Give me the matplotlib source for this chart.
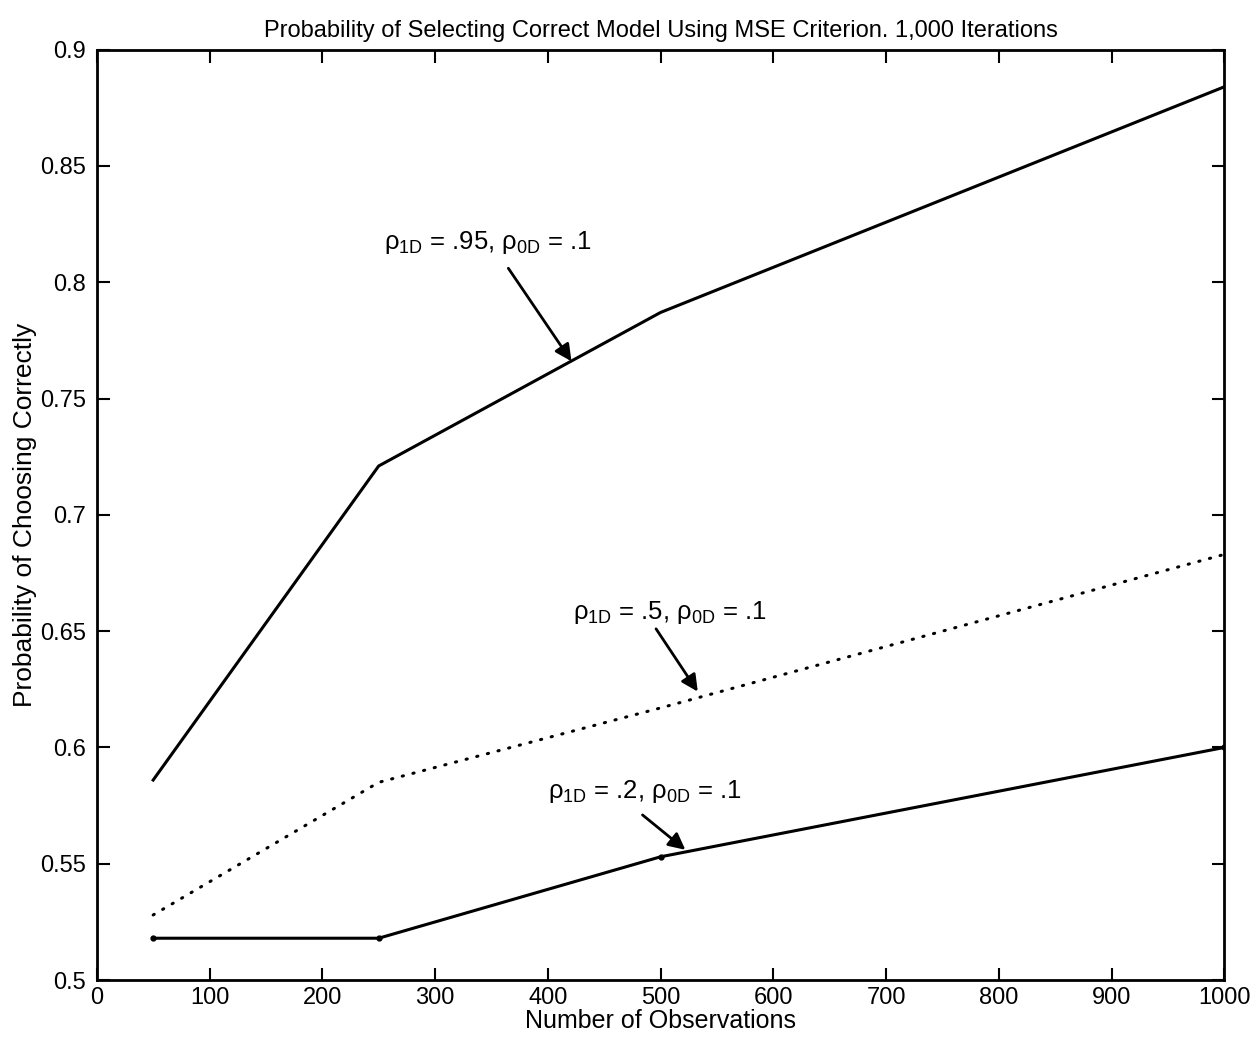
import matplotlib
matplotlib.use("Agg")
from matplotlib import pyplot as plt

plt.rcParams['font.family'] = ['Liberation Sans', 'DejaVu Sans']
plt.rcParams['mathtext.fontset'] = 'custom'
plt.rcParams['mathtext.rm'] = 'Liberation Sans'
plt.rcParams['mathtext.it'] = 'Liberation Sans'

n_obs = [50, 250, 500, 1000]
p_095 = [0.586, 0.721, 0.787, 0.884]
p_05 = [0.528, 0.585, 0.617, 0.683]
p_02 = [0.518, 0.518, 0.553, 0.600]

fig = plt.figure(figsize=(12.57, 10.55), dpi=100)
ax = fig.add_axes([0.077, 0.071, 0.897, 0.882])

ax.plot(n_obs, p_095, color='black', lw=2.2)
ax.plot(n_obs, p_05, color='black', lw=2.2, linestyle=(0, (0.4, 3.2)),
        dash_capstyle='round')
ax.plot(n_obs, p_02, color='black', lw=2.2, marker='o', markersize=3.5)

ax.set_xlim(0, 1000)
ax.set_ylim(0.5, 0.9)
ax.set_xticks(range(0, 1001, 100))
ax.set_yticks([0.5, 0.55, 0.6, 0.65, 0.7, 0.75, 0.8, 0.85, 0.9])
ax.set_yticklabels(['0.5', '0.55', '0.6', '0.65', '0.7', '0.75', '0.8', '0.85', '0.9'])
ax.tick_params(direction='in', top=True, right=True, length=9, width=1.5, labelsize=17)
ax.tick_params(axis='y', pad=8)
ax.tick_params(axis='x', pad=5)
for s in ax.spines.values():
    s.set_linewidth(2)

ax.set_title("Probability of Selecting Correct Model Using MSE Criterion. 1,000 Iterations",
             fontsize=17, pad=9)
ax.set_xlabel("Number of Observations", fontsize=18, labelpad=0)
ax.set_ylabel("Probability of Choosing Correctly", fontsize=19, labelpad=2)

labels = [(r"$\rho_{1D}$ = .95, $\rho_{0D}$ = .1", (255, 0.817), (365, 0.806), (421, 0.766)),
          (r"$\rho_{1D}$ = .5, $\rho_{0D}$ = .1", (422, 0.658), (496, 0.651), (533, 0.624)),
          (r"$\rho_{1D}$ = .2, $\rho_{0D}$ = .1", (400, 0.581), (484, 0.571), (522, 0.556))]
for txt, pos, start, end in labels:
    ax.text(pos[0], pos[1], txt, fontsize=18.5, va='center', ha='left')
    ax.annotate('', xy=end, xytext=start,
                arrowprops=dict(arrowstyle='-|>', color='black', lw=2,
                                mutation_scale=25, shrinkA=0, shrinkB=0))

plt.savefig('out.png')
